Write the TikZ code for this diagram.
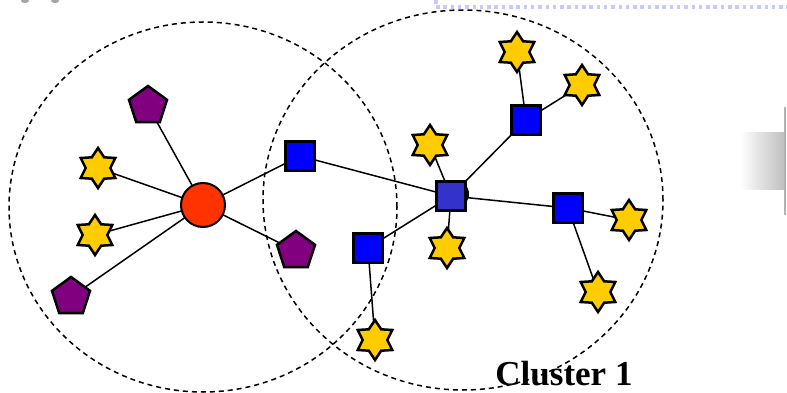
\documentclass[tikz,border=0pt]{standalone}
\usepackage{fontspec}
\setmainfont{Liberation Serif}
\usetikzlibrary{shapes.geometric,backgrounds}
\definecolor{staryellow}{HTML}{FFCC00}
\definecolor{pentpurple}{HTML}{800080}
\definecolor{hubred}{HTML}{FF3300}
\definecolor{sqblue}{HTML}{0000FF}
\definecolor{hubblue}{HTML}{3333CC}
\definecolor{dotlav}{HTML}{C8C8FF}
\pgfdeclarelayer{deep}
\pgfsetlayers{deep,background,main}
\tikzset{
  x=1pt, y=-1pt,
  starnode/.style={star, star points=6, star point ratio=1.62, minimum size=40pt, inner sep=0pt, draw=black, line width=2.5pt, fill=staryellow},
  pentnode/.style={regular polygon, regular polygon sides=5, minimum size=40pt, inner sep=0pt, draw=black, line width=2.5pt, fill=pentpurple},
  sqnode/.style={rectangle, minimum size=29pt, inner sep=0pt, draw=black, line width=2.5pt, fill=sqblue},
  hubsq/.style={sqnode, fill=hubblue},
  hubcirc/.style={circle, minimum size=44pt, inner sep=0pt, draw=black, line width=2pt, fill=hubred},
  link/.style={draw=black, line width=1.5pt},
  cluster/.style={draw=black, line width=1.5pt, dash pattern=on 5pt off 4pt},
}
\begin{document}
\begin{tikzpicture}
\useasboundingbox (0,0) rectangle (787,393);
\begin{pgfonlayer}{deep}
\fill[white] (0,0) rectangle (787,393);
\end{pgfonlayer}
% decorations
\draw[dotlav, line width=3.5pt, dash pattern=on 3.5pt off 3.8pt] (436,7) -- (787,7);
\draw[dotlav, line width=3.5pt] (436,0) -- (436,4);
\shade[left color=white, right color=black!25] (740,133) rectangle (784,189);
\draw[black!30, line width=1.5pt] (785,107) -- (785,215);
\fill[black!35] (25,1) ellipse (4pt and 2pt);
\fill[black!35] (55,1) ellipse (4pt and 2pt);
% clusters
\draw[cluster] (203,207) ellipse (194pt and 185pt);
\draw[cluster] (463,200) ellipse (200pt and 190pt);
% nodes
\node[hubcirc] (hub) at (203,205) {};
\node[pentnode] (p1) at (148,106) {};
\node[pentnode] (p2) at (296,251) {};
\node[pentnode] (p3) at (71,297) {};
\node[starnode] (s1) at (98,168) {};
\node[starnode] (s2) at (95,235) {};
\node[sqnode] (qa) at (300,156) {};
\fill[black] (455,194) circle (14pt);
\node[hubsq] (hub2) at (451,196) {};
\node[sqnode] (qb) at (526,120) {};
\node[sqnode] (qc) at (568,208) {};
\node[sqnode] (qd) at (368,248) {};
\node[starnode] (s3) at (517,52) {};
\node[starnode] (s4) at (582,85) {};
\node[starnode] (s5) at (430,145) {};
\node[starnode] (s6) at (447,248) {};
\node[starnode] (s7) at (629,220) {};
\node[starnode] (s8) at (598,292) {};
\node[starnode] (s9) at (375,340) {};
\node[font=\bfseries, inner sep=0pt, anchor=base] (lbl) at (564,385) {\fontsize{35}{35}\selectfont Cluster 1};
% links
\begin{scope}[on background layer]
\foreach \n in {p1,p2,p3,s1,s2,qa}
  \draw[link] (hub.center) -- (\n.center);
\draw[link] (qa.center) -- (hub2.center);
\foreach \n in {s5,s6,qb,qc,qd}
  \draw[link] (hub2.center) -- (\n.center);
\draw[link] (qb.center) -- (s3.center);
\draw[link] (qb.center) -- (s4.center);
\draw[link] (qc.center) -- (s7.center);
\draw[link] (qc.center) -- (s8.center);
\draw[link] (qd.center) -- (s9.center);
\end{scope}
\end{tikzpicture}
\end{document}
